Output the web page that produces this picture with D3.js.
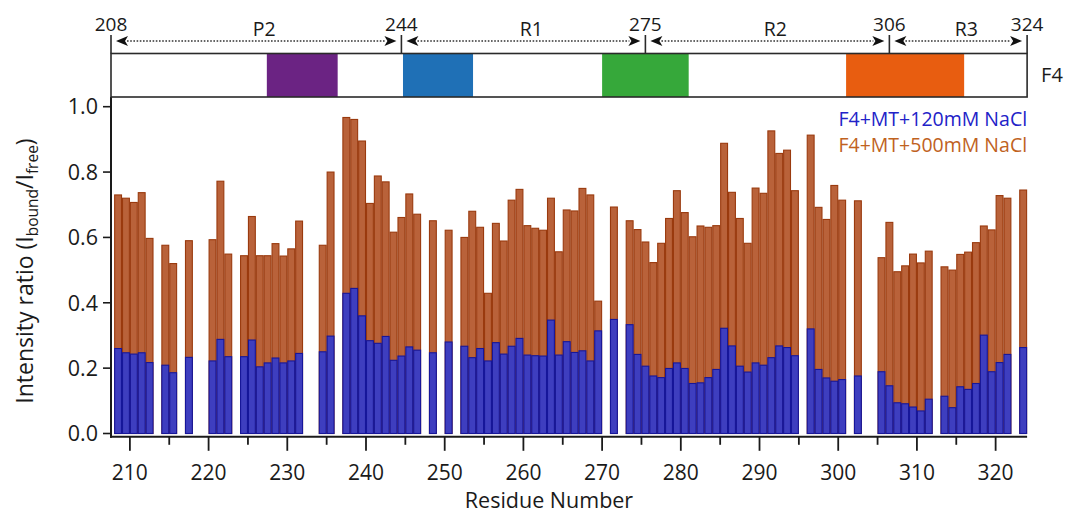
<!DOCTYPE html>
<html>
<head>
<meta charset="utf-8">
<script src="https://cdn.jsdelivr.net/npm/d3@7"></script>
<style>
  html, body { margin: 0; padding: 0; background: #fff; }
  svg { display: block; font-family: "Open Sans", "DejaVu Sans", sans-serif; }
</style>
</head>
<body>
<svg id="chart" width="1069" height="515"></svg>
<script>
// Residues with a measured ratio (gaps = unassigned / overlapped peaks)
const residues = [
  208,209,210,211,212, 214,215, 217, 220,221,222,
  224,225,226,227,228,229,230,231, 234,235,
  237,238,239,240,241,242,243,244,245,246, 248, 250,
  252,253,254,255,256,257,258,259,260,261,262,263,264,265,266,267,268,269,
  271,
  273,274,275,276,277,278,279,280,281,282,283,284,285,286,287,288,289,290,291,292,293,294,
  296,297,298,299,300, 302,
  305,306,307,308,309,310,311,
  313,314,315,316,317,318,319,320,321, 323
];

// I_bound / I_free, F4 + MT + 120 mM NaCl
const ratio120 = [
  0.260,0.247,0.243,0.247,0.217, 0.209,0.186, 0.233, 0.222,0.288,0.235,
  0.235,0.286,0.204,0.216,0.231,0.216,0.222,0.245, 0.250,0.298,
  0.429,0.444,0.360,0.284,0.276,0.297,0.224,0.237,0.265,0.255, 0.247, 0.280,
  0.267,0.232,0.260,0.222,0.278,0.243,0.267,0.291,0.240,0.238,0.237,0.347,0.240,0.281,0.248,0.253,0.222,0.314,
  0.349,
  0.333,0.242,0.206,0.176,0.171,0.199,0.216,0.199,0.153,0.155,0.171,0.196,0.322,0.268,0.206,0.188,0.216,0.209,0.232,0.268,0.263,0.238,
  0.320,0.196,0.170,0.160,0.165, 0.176,
  0.189,0.146,0.094,0.091,0.081,0.069,0.105,
  0.114,0.079,0.143,0.135,0.153,0.301,0.189,0.217,0.242, 0.263
];

// I_bound / I_free, F4 + MT + 500 mM NaCl
const ratio500 = [
  0.730,0.720,0.707,0.737,0.597, 0.576,0.520, 0.590, 0.593,0.772,0.549,
  0.544,0.664,0.544,0.544,0.581,0.543,0.565,0.650, 0.576,0.800,
  0.967,0.961,0.895,0.704,0.788,0.770,0.616,0.661,0.733,0.671, 0.651, 0.622,
  0.600,0.680,0.631,0.429,0.643,0.589,0.714,0.747,0.636,0.628,0.622,0.720,0.556,0.684,0.681,0.750,0.730,0.405,
  0.693,
  0.651,0.624,0.586,0.523,0.582,0.658,0.743,0.676,0.602,0.635,0.631,0.636,0.888,0.738,0.658,0.582,0.751,0.735,0.926,0.857,0.867,0.743,
  0.913,0.692,0.655,0.759,0.714, 0.712,
  0.538,0.646,0.495,0.513,0.549,0.522,0.558,
  0.510,0.500,0.548,0.555,0.584,0.635,0.623,0.728,0.720, 0.745
];

const yTicks = [0, 0.2, 0.4, 0.6, 0.8, 1.0];
const xMajorTicks = [210,220,230,240,250,260,270,280,290,300,310,320];
const xMinorTicks = [215,225,235,245,255,265,275,285,295,305,315];

// F4 construct schematic: region boundaries, names and motif blocks
const regionBounds = [208, 244, 275, 306, 324];
const regionNames = ["P2", "R1", "R2", "R3"];
const motifs = [
  { from: 227.4, to: 236.4, color: "#6b2383" },
  { from: 244.7, to: 253.6, color: "#1f70b6" },
  { from: 270.0, to: 281.0, color: "#36a83a" },
  { from: 301.0, to: 316.0, color: "#e85d10" }
];

const seriesNames = ["F4+MT+120mM NaCl", "F4+MT+500mM NaCl"];
const colors = {
  blueFill: "#3e3ebf", blueStroke: "#16169a",
  orangeFill: "#b9623a", orangeStroke: "#9a3a0e",
  blueText: "#2222c8", orangeText: "#c0621e", ink: "#1a1a1a"
};

const svg = d3.select("#chart");

const x = d3.scaleLinear().domain([207.6, 324.05]).range([111, 1027.5]);
const y = d3.scaleLinear().domain([0, 1]).range([433.5, 106.7]);

const data = residues.map((r, i) => ({ r, low: ratio120[i], high: ratio500[i] }));

// ---- bars: 500 mM behind, 120 mM in front ----
const bars = svg.append("g");
bars.selectAll("rect.hi").data(data).join("rect")
  .attr("class", "hi")
  .attr("x", d => x(d.r) + 0.5)
  .attr("width", d => x(d.r + 1) - x(d.r) - 1)
  .attr("y", d => y(d.high))
  .attr("height", d => y(0) - y(d.high))
  .attr("fill", colors.orangeFill)
  .attr("stroke", colors.orangeStroke)
  .attr("stroke-width", 1.1);

bars.selectAll("rect.lo").data(data).join("rect")
  .attr("class", "lo")
  .attr("x", d => x(d.r) + 0.5)
  .attr("width", d => x(d.r + 1) - x(d.r) - 1)
  .attr("y", d => y(d.low))
  .attr("height", d => y(0) - y(d.low))
  .attr("fill", colors.blueFill)
  .attr("stroke", colors.blueStroke)
  .attr("stroke-width", 1.1);

// ---- axes ----
const axisY0 = 436.8;
const plotLeft = x.range()[0];
const plotRight = x(324);

const yAxis = svg.append("g");
yAxis.append("line")
  .attr("x1", plotLeft).attr("x2", plotLeft)
  .attr("y1", 97).attr("y2", axisY0 + 1)
  .attr("stroke", colors.ink).attr("stroke-width", 2);
yAxis.selectAll("line.t").data(yTicks).join("line")
  .attr("class", "t")
  .attr("x1", plotLeft - 8).attr("x2", plotLeft)
  .attr("y1", d => y(d)).attr("y2", d => y(d))
  .attr("stroke", colors.ink).attr("stroke-width", 1.6);
yAxis.selectAll("text").data(yTicks).join("text")
  .attr("x", plotLeft - 13)
  .attr("y", d => y(d))
  .attr("dy", "0.36em")
  .attr("text-anchor", "end")
  .attr("font-size", 21.5)
  .attr("fill", colors.ink)
  .text(d3.format(".1f"));

const xAxis = svg.append("g");
xAxis.append("line")
  .attr("x1", plotLeft - 1).attr("x2", plotRight)
  .attr("y1", axisY0).attr("y2", axisY0)
  .attr("stroke", colors.ink).attr("stroke-width", 2);
xAxis.selectAll("line.maj").data(xMajorTicks).join("line")
  .attr("class", "maj")
  .attr("x1", d => x(d)).attr("x2", d => x(d))
  .attr("y1", axisY0).attr("y2", axisY0 + 14)
  .attr("stroke", colors.ink).attr("stroke-width", 1.8);
xAxis.selectAll("line.min").data(xMinorTicks).join("line")
  .attr("class", "min")
  .attr("x1", d => x(d)).attr("x2", d => x(d))
  .attr("y1", axisY0).attr("y2", axisY0 + 8)
  .attr("stroke", colors.ink).attr("stroke-width", 1.8);
xAxis.selectAll("text").data(xMajorTicks).join("text")
  .attr("x", d => x(d))
  .attr("y", 480)
  .attr("text-anchor", "middle")
  .attr("font-size", 21)
  .attr("fill", colors.ink)
  .text(d => d);

svg.append("text")
  .attr("x", 549).attr("y", 508)
  .attr("text-anchor", "middle")
  .attr("font-size", 21.5)
  .attr("fill", colors.ink)
  .text("Residue Number");

const yTitle = svg.append("text")
  .attr("transform", "translate(33,271) rotate(-90)")
  .attr("text-anchor", "middle")
  .attr("font-size", 23)
  .attr("fill", colors.ink);
yTitle.append("tspan").text("Intensity ratio (I");
yTitle.append("tspan").attr("font-size", 15.5).attr("dy", 5).text("bound");
yTitle.append("tspan").attr("dy", -5).text("/I");
yTitle.append("tspan").attr("font-size", 15.5).attr("dy", 5).text("free");
yTitle.append("tspan").attr("dy", -5).text(")");

// ---- legend ----
svg.selectAll("text.legend").data(seriesNames).join("text")
  .attr("class", "legend")
  .attr("x", plotRight)
  .attr("y", (d, i) => 126 + i * 26)
  .attr("text-anchor", "end")
  .attr("font-size", 19.5)
  .attr("fill", (d, i) => i === 0 ? colors.blueText : colors.orangeText)
  .text(d => d);

// ---- F4 construct schematic ----
const boxTop = 53.5, boxBottom = 97;
const schematic = svg.append("g");
// boundary position: ends follow the plot frame, inner ones sit mid-residue
const bx = (b, i) => i === 0 ? plotLeft : (i === regionBounds.length - 1 ? x(b) : x(b + 0.5));

schematic.selectAll("rect.motif").data(motifs).join("rect")
  .attr("class", "motif")
  .attr("x", d => x(d.from))
  .attr("width", d => x(d.to) - x(d.from))
  .attr("y", boxTop).attr("height", boxBottom - boxTop)
  .attr("fill", d => d.color);

schematic.append("rect")
  .attr("x", plotLeft).attr("y", boxTop)
  .attr("width", plotRight - plotLeft).attr("height", boxBottom - boxTop)
  .attr("fill", "none").attr("stroke", "#2a2a2a").attr("stroke-width", 1.6);

schematic.selectAll("line.sep").data(regionBounds).join("line")
  .attr("class", "sep")
  .attr("x1", (d, i) => bx(d, i)).attr("x2", (d, i) => bx(d, i))
  .attr("y1", 35).attr("y2", boxTop)
  .attr("stroke", "#2a2a2a").attr("stroke-width", 1.6);

schematic.selectAll("text.bound").data(regionBounds).join("text")
  .attr("class", "bound")
  .attr("x", (d, i) => bx(d, i))
  .attr("y", 30.5)
  .attr("text-anchor", "middle")
  .attr("font-size", 19)
  .attr("fill", colors.ink)
  .text(d => d);

const arrowY = 41, inset = 5, headL = 12, headH = 5;
const spans = regionNames.map((name, i) => ({
  name,
  x0: bx(regionBounds[i], i),
  x1: bx(regionBounds[i + 1], i + 1)
}));

schematic.selectAll("line.dots").data(spans).join("line")
  .attr("class", "dots")
  .attr("x1", d => d.x0 + inset + headL - 1).attr("x2", d => d.x1 - inset - headL + 1)
  .attr("y1", arrowY).attr("y2", arrowY)
  .attr("stroke", "#333").attr("stroke-width", 1.4)
  .attr("stroke-dasharray", "1.6,1.6");

schematic.selectAll("path.lhead").data(spans).join("path")
  .attr("class", "lhead")
  .attr("d", d => {
    const t = d.x0 + inset;
    return `M${t},${arrowY}L${t + headL},${arrowY - headH}L${t + headL * 0.75},${arrowY}L${t + headL},${arrowY + headH}Z`;
  })
  .attr("fill", "#111");
schematic.selectAll("path.rhead").data(spans).join("path")
  .attr("class", "rhead")
  .attr("d", d => {
    const t = d.x1 - inset;
    return `M${t},${arrowY}L${t - headL},${arrowY - headH}L${t - headL * 0.75},${arrowY}L${t - headL},${arrowY + headH}Z`;
  })
  .attr("fill", "#111");

schematic.selectAll("text.region").data(spans).join("text")
  .attr("class", "region")
  .attr("x", d => (d.x0 + d.x1) / 2 + 8)
  .attr("y", 36)
  .attr("text-anchor", "middle")
  .attr("font-size", 19.5)
  .attr("fill", colors.ink)
  .text(d => d.name);

schematic.append("text")
  .attr("x", plotRight + 14).attr("y", (boxTop + boxBottom) / 2)
  .attr("dy", "0.36em")
  .attr("font-size", 20)
  .attr("fill", colors.ink)
  .text("F4");
</script>
</body>
</html>
